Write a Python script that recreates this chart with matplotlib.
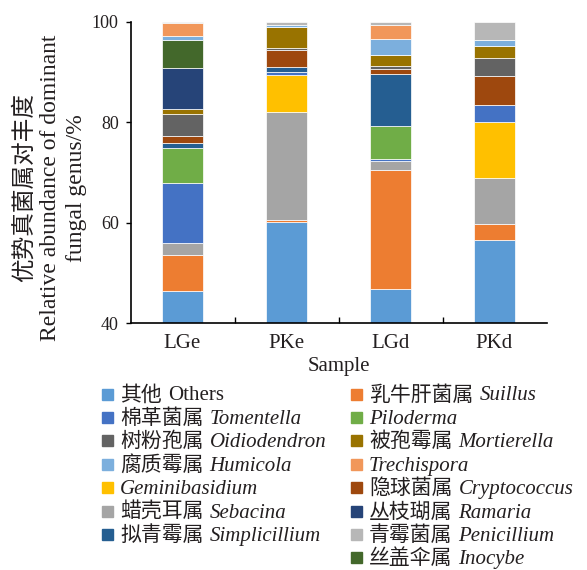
import matplotlib
matplotlib.use("Agg")
import matplotlib.pyplot as plt
from matplotlib.patches import Rectangle
import numpy as np

plt.rcParams['font.family'] = ['Liberation Serif', 'Noto Sans CJK SC', 'DejaVu Sans']

samples = ['LGe', 'PKe', 'LGd', 'PKd']

# genera in stacking order (bottom -> top)
genus_cn = ['其他', '乳牛肝菌属', '蜡壳耳属', '', '棉革菌属', '', '拟青霉属', '隐球菌属',
            '树粉孢属', '被孢霉属', '丛枝瑚属', '丝盖伞属', '腐质霉属', '', '青霉菌属']
genus_latin = ['Others', 'Suillus', 'Sebacina', 'Geminibasidium', 'Tomentella', 'Piloderma',
               'Simplicillium', 'Cryptococcus', 'Oidiodendron', 'Mortierella', 'Ramaria',
               'Inocybe', 'Humicola', 'Trechispora', 'Penicillium']
colors = ['#5B9BD5', '#ED7D31', '#A5A5A5', '#FFC000', '#4472C4', '#70AD47', '#255E91',
          '#9E480E', '#636363', '#997300', '#264478', '#43682B', '#7CAFDD', '#F1975A', '#B7B7B7']

# relative abundance (%) per genus, columns follow `samples`
abundance = [
    [46.4, 60.2, 46.7, 56.5],   # Others
    [7.1, 0.4, 23.8, 3.3],      # Suillus
    [2.4, 21.5, 1.8, 9.0],      # Sebacina
    [0.0, 7.2, 0.0, 11.2],      # Geminibasidium
    [11.9, 0.7, 0.4, 3.4],      # Tomentella
    [7.1, 0.0, 6.6, 0.0],       # Piloderma
    [0.9, 0.9, 10.3, 0.0],      # Simplicillium
    [1.4, 3.5, 0.9, 5.7],       # Cryptococcus
    [4.5, 0.4, 0.6, 3.6],       # Oidiodendron
    [0.9, 4.1, 2.2, 2.5],       # Mortierella
    [8.1, 0.0, 0.0, 0.0],       # Ramaria
    [5.6, 0.0, 0.0, 0.0],       # Inocybe
    [0.9, 0.4, 3.3, 1.2],       # Humicola
    [2.6, 0.0, 2.8, 0.0],       # Trechispora
    [0.2, 0.7, 0.6, 3.6],       # Penicillium
]

# legend layout: index lists per column
legend_left = [0, 4, 8, 12, 3, 2, 6]
legend_right = [1, 5, 9, 13, 7, 10, 14, 11]

txt = '#231f20'
W, H = 587, 570
fig = plt.figure(figsize=(W / 100, H / 100), dpi=100)
ax = fig.add_axes([130.5 / W, 1 - 323 / H, 416 / W, (323 - 21.7) / H])

x = np.arange(len(samples))
bottom = np.zeros(len(samples))
for vals, c in zip(abundance, colors):
    vals = np.array(vals)
    ax.bar(x, vals, bottom=bottom, width=0.4, color=c, edgecolor='white', linewidth=0.5)
    bottom += vals

ax.set_xlim(-0.5, len(samples) - 0.5)
ax.set_ylim(40, 100)
ax.set_yticks([40, 60, 80, 100])
ax.set_xticks(x)
ax.set_xticklabels(samples, fontsize=15, color=txt)
ax.set_xticks(np.arange(0.5, len(samples) - 0.5), minor=True)
ax.tick_params(axis='x', which='major', length=0, pad=8)
ax.tick_params(axis='x', which='minor', direction='in', length=4, width=1)
ax.tick_params(axis='y', direction='out', length=3.5, width=1, pad=5, labelsize=13, labelcolor=txt)
for s in ['top', 'right']:
    ax.spines[s].set_visible(False)
for s in ['left', 'bottom']:
    ax.spines[s].set_linewidth(1.2)
ax.set_xlabel('Sample', fontsize=15, color=txt, labelpad=3)

fig.text(50 / W, 1 - 188 / H, '优势真菌属对丰度\nRelative abundance of dominant\nfungal genus/%',
         rotation=90, ha='center', va='center', multialignment='center',
         fontsize=17, linespacing=1.3, color=txt)

# legend: coloured square, Chinese name, then Latin name
renderer = fig.canvas.get_renderer()
row_h = 23.4
for col, idxs in [(101.5, legend_left), (350.5, legend_right)]:
    for r, i in enumerate(idxs):
        yc = 394 + r * row_h
        fig.patches.append(Rectangle((col / W, 1 - (yc + 5.5) / H), 11 / W, 11 / H,
                                     transform=fig.transFigure, color=colors[i]))
        tx = col + 18.5
        base = 1 - (yc + 6.5) / H
        if genus_cn[i]:
            t = fig.text(tx / W, base, genus_cn[i], fontsize=15, color=txt,
                         family='Noto Sans CJK SC', va='baseline')
            tx += t.get_window_extent(renderer).width + 6
        style = 'normal' if genus_latin[i] == 'Others' else 'italic'
        fig.text(tx / W, base, genus_latin[i], fontsize=15, style=style, color=txt,
                 va='baseline')

fig.savefig('out.png', dpi=100)
